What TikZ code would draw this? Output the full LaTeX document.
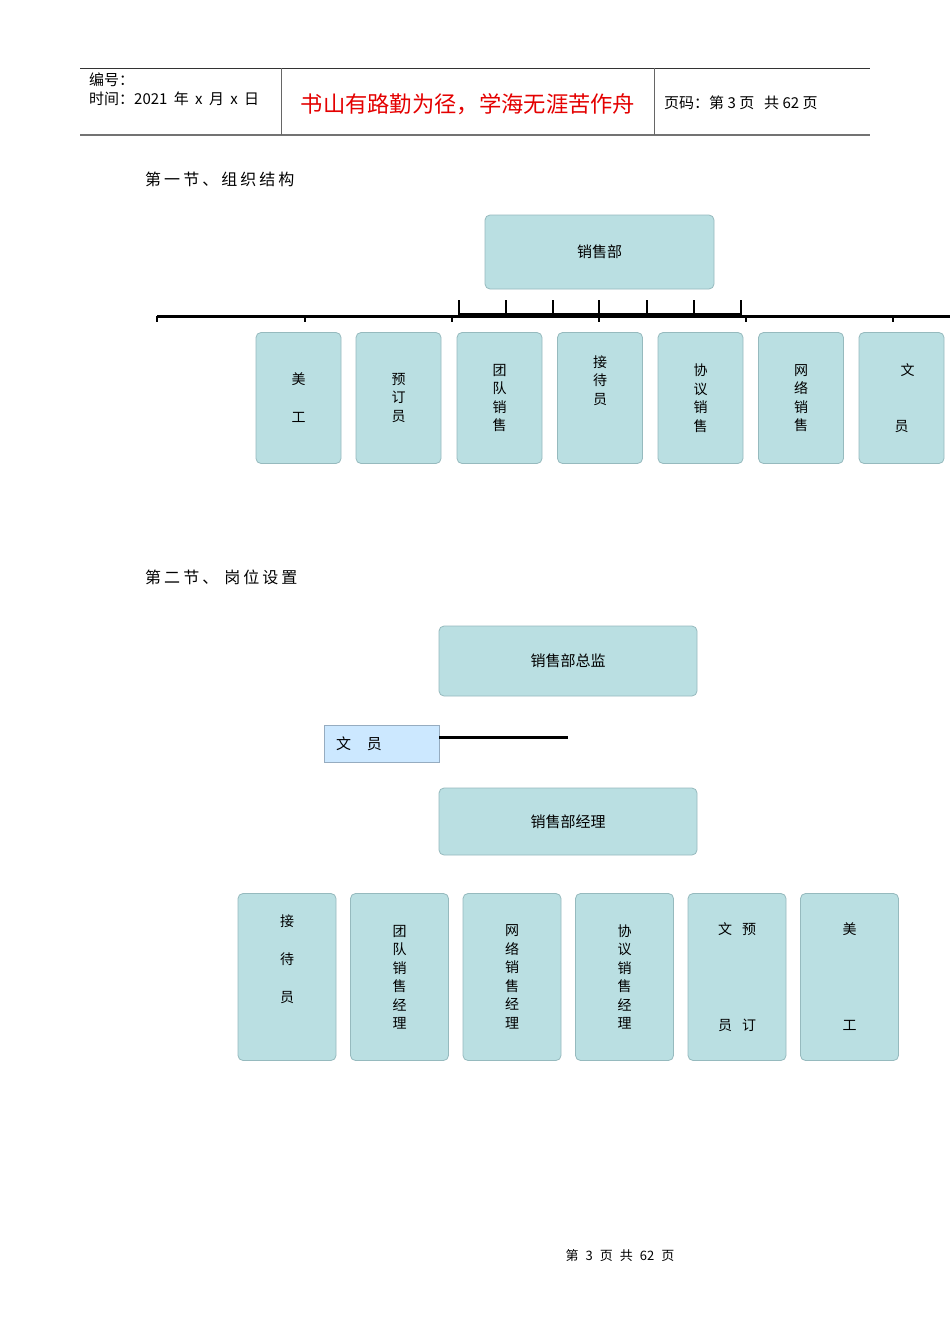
\documentclass[tikz,border=0pt]{standalone}
\usepackage{fontspec}
\setmainfont{Liberation Sans}
\newfontfamily\cjk{Noto Sans CJK SC}
\newfontfamily\cjkwide{Noto Sans CJK SC}[LetterSpace=19]
\usetikzlibrary{positioning}
\definecolor{unitfill}{RGB}{186,223,226}
\definecolor{unitline}{RGB}{150,186,190}
\definecolor{clerkfill}{RGB}{204,232,255}
\definecolor{clerkline}{RGB}{150,172,192}
\definecolor{slogan}{RGB}{228,0,0}
\tikzset{
  unit/.style={rectangle,rounded corners=5pt,fill=unitfill,draw=unitline,
    line width=0.8pt,inner sep=0pt,align=center,
    font=\cjk\fontsize{14}{18.5}\selectfont},
  % the two rows of post boxes
  rowone/.style={unit,minimum width=85pt,minimum height=131pt},
  rowtwo/.style={unit,minimum width=98pt,minimum height=167pt},
  headunit/.style={unit,font=\cjk\fontsize{15}{18}\selectfont},
  clerk/.style={rectangle,fill=clerkfill,draw=clerkline,line width=0.8pt,
    minimum height=37pt,inner xsep=12pt,text width=91pt,align=left,
    font=\cjk\fontsize{15}{18}\selectfont},
  bar/.style={line width=3pt},
  rule/.style={line width=1pt,black!80},
  hdtext/.style={anchor=west,inner sep=0pt,font=\cjk\fontsize{15}{18}\selectfont},
  section/.style={anchor=west,inner sep=0pt,font=\cjkwide\fontsize{16}{18}\selectfont}
}

\begin{document}
\begin{tikzpicture}[x=1pt,y=-1pt]
  \useasboundingbox[fill=white] (0,0) rectangle (950,1344);
  % page header
  \coordinate (hdTL) at (80,68);
  \coordinate (hdTR) at (870,68);
  \coordinate (hdBL) at (80,135);
  \coordinate (hdBR) at (870,135);
  \draw[rule] (hdTL) -- (hdTR);
  \draw[line width=1.6pt,black!55] (hdBL) -- (hdBR);
  \draw[rule,black!60] (281,68) -- (281,135);
  \draw[rule,black!60] (654,68) -- (654,135);
  \node[hdtext] (hdno) at (89,80) {编号：};
  \node[hdtext] (hddate) at (89,99) {时间：2021\hspace{3pt} 年\hspace{3pt} x\hspace{3pt} 月\hspace{3pt} x\hspace{3pt} 日};
  \node[font=\cjk\fontsize{22.3}{24}\selectfont,text=slogan,inner sep=0pt]
    (motto) at (468,104) {书山有路勤为径，学海无涯苦作舟};
  \node[hdtext] (hdpage) at (664,103) {页码：第 3 页\hspace{10pt}共 62 页};

  % section 1
  \node[section] (sec1) at (145,179) {第一节、组织结构};
  \node[headunit,minimum width=229pt,minimum height=74pt] (dept) at (599.5,252) {销售部};
  \coordinate (combL) at (157,316);
  \coordinate (combR) at (950,316);
  \draw[bar] (combL) -- (combR);
  \draw[line width=2.5pt] (459,314) -- (741,314);
  \foreach \x in {157,305,452,599,746,893}
    \draw[line width=2.5pt] (\x,316) -- (\x,322);
  \foreach \x in {459,506,553,599,647,694,741}
    \draw[line width=2.5pt] (\x,300) -- (\x,315);
  \node[rowone] (art) at (298.5,398) {美\\[19.5pt]工};
  \node[rowone] (book) at (398.5,398) {预\\订\\员};
  \node[rowone] (group) at (499.5,398) {团\\队\\销\\售};
  \node[rowone] (recep) at (600,398) {接\\待\\员\\[18pt]~};
  \node[rowone] (proto) at (700.5,398) {协\\议\\销\\售};
  \node[rowone] (web) at (801,398) {网\\络\\销\\售};
  \node[rowone] (staff) at (901.5,398) {\hspace{12pt}文\\[37.5pt]员};

  % section 2
  \node[section] (sec2) at (145,577) {第二节、\hspace{6pt}岗位设置};
  \node[headunit,minimum width=258pt,minimum height=70pt] (director) at (568,661) {销售部总监};
  \node[clerk] (clerkbox) at (381.5,743.5) {文\hspace{16pt}员};
  \coordinate (clerkend) at (568,737);
  \draw[bar] (clerkbox.east |- clerkend) -- (clerkend);
  \node[headunit,minimum width=258pt,minimum height=67pt] (manager) at (568,821.5) {销售部经理};
  \node[rowtwo] (recep2) at (287,977) {接\\[19.5pt]待\\[19.5pt]员\\[19pt]~};
  \node[rowtwo] (group2) at (399.5,977) {团\\队\\销\\售\\经\\理};
  \node[rowtwo] (web2) at (512,977) {网\\络\\销\\售\\经\\理};
  \node[rowtwo] (proto2) at (624.5,977) {协\\议\\销\\售\\经\\理};
  \node[rowtwo] (staff2) at (737,977) {文\hspace{10pt}预\\[77.5pt]员\hspace{10pt}订};
  \node[rowtwo] (art2) at (849.5,977) {美\\[77.5pt]工};

  % page footer
  \node[font=\cjk\fontsize{13}{15}\selectfont,inner sep=0pt] (footer) at (620,1256)
    {第\hspace{7pt}3\hspace{7pt}页\hspace{7pt}共\hspace{7pt}62\hspace{7pt}页};
\end{tikzpicture}
\end{document}
